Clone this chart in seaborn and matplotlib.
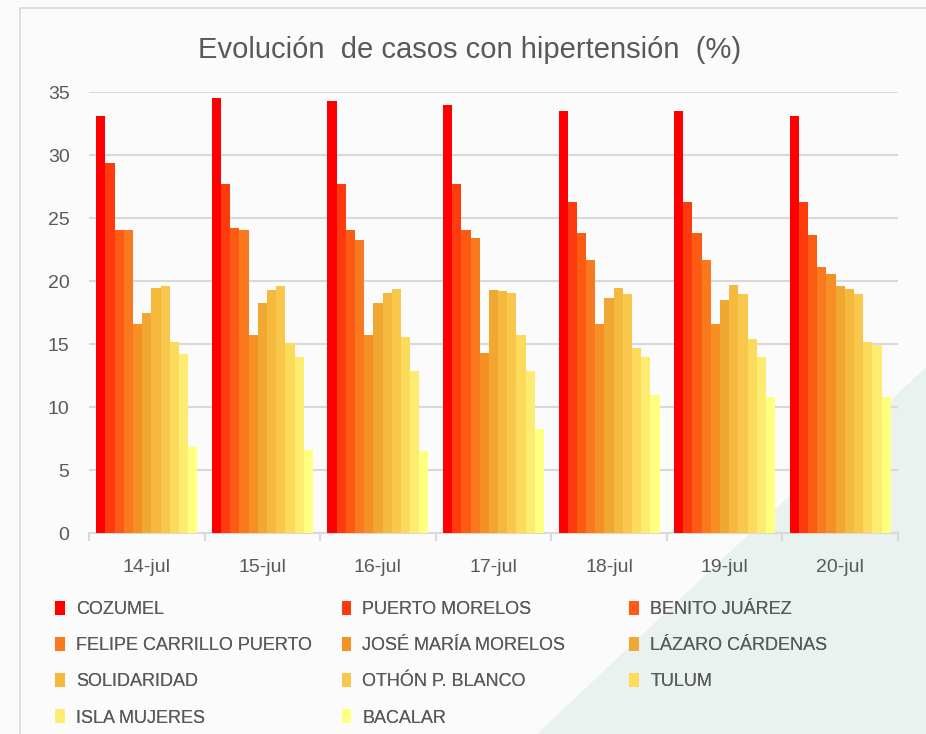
import pandas as pd
import seaborn as sns
import matplotlib.pyplot as plt
from matplotlib.patches import Polygon, Rectangle

fechas = ["14-jul", "15-jul", "16-jul", "17-jul", "18-jul", "19-jul", "20-jul"]
municipios = ["COZUMEL", "PUERTO MORELOS", "BENITO JUÁREZ", "FELIPE CARRILLO PUERTO",
              "JOSÉ MARÍA MORELOS", "LÁZARO CÁRDENAS", "SOLIDARIDAD", "OTHÓN P. BLANCO",
              "TULUM", "ISLA MUJERES", "BACALAR"]

# one list per date, in municipio order
v_14 = [33.1, 29.4, 24.1, 24.1, 16.6, 17.5, 19.5, 19.6, 15.2, 14.2, 6.85]
v_15 = [34.6, 27.7, 24.2, 24.1, 15.7, 18.3, 19.3, 19.6, 15.1, 14.0, 6.6]
v_16 = [34.3, 27.7, 24.1, 23.3, 15.7, 18.3, 19.1, 19.4, 15.6, 12.9, 6.5]
v_17 = [34.0, 27.7, 24.1, 23.4, 14.3, 19.3, 19.2, 19.1, 15.7, 12.9, 8.3]
v_18 = [33.5, 26.3, 23.8, 21.7, 16.6, 18.7, 19.5, 19.0, 14.7, 14.0, 11.0]
v_19 = [33.5, 26.3, 23.8, 21.7, 16.6, 18.5, 19.7, 19.0, 15.4, 14.0, 10.8]
v_20 = [33.1, 26.3, 23.7, 21.1, 20.6, 19.6, 19.4, 19.0, 15.2, 14.9, 10.8]
valores = [v_14, v_15, v_16, v_17, v_18, v_19, v_20]

colores = ["#FF0000", "#FF3A0C", "#FD5A14", "#FB791E", "#F68F24", "#F0A832",
           "#F5B93E", "#F9C74C", "#FDDB5A", "#FEEC70", "#FFFF80"]

rows = []
for f, vals in zip(fechas, valores):
    for m, v in zip(municipios, vals):
        rows.append({"Fecha": f, "Municipio": m, "Casos": v})
df = pd.DataFrame(rows)

sns.set_theme(style="white")
plt.rcParams['font.family'] = ['Liberation Sans', 'DejaVu Sans']
gris = "#595959"

fig = plt.figure(figsize=(9.26, 7.34), dpi=100, facecolor="#FBFBFB")
# decorative background shape
fig.patches.append(Polygon([(1.0, 0.50), (1.0, 0.0), (0.58, 0.0)], closed=True,
                           transform=fig.transFigure, facecolor="#E9F2EE",
                           edgecolor="none", zorder=-2))
fig.patches.append(Rectangle((0.022, -0.01), 0.985, 0.999, transform=fig.transFigure,
                             facecolor="none", edgecolor="#D9D9D9", lw=1.2, zorder=-1))

ax = fig.add_axes([0.0961, 0.2738, 0.8737, 0.6002])
ax.set_facecolor("none")
sns.barplot(data=df, x="Fecha", y="Casos", hue="Municipio", palette=colores,
            width=0.875, linewidth=0, saturation=1, ax=ax, zorder=3)

ax.set_ylim(0, 35)
ax.set_xlim(-0.5, 6.5)
ax.set_yticks(range(0, 36, 5))
ax.yaxis.grid(True, color="#D9D9D9", lw=1.5, zorder=0)
ax.set_axisbelow(True)
ax.set_xlabel(None)
ax.set_ylabel(None)
for s in ["top", "right", "left"]:
    ax.spines[s].set_visible(False)
ax.spines["bottom"].set_color("#D9D9D9")
ax.spines["bottom"].set_linewidth(1.5)
ax.set_xticks([i - 0.5 for i in range(8)], minor=True)
ax.tick_params(axis="x", which="minor", length=6, width=1.5, color="#D9D9D9", bottom=True)
ax.tick_params(axis="x", which="major", length=0, pad=19, labelsize=14, labelcolor=gris)
ax.tick_params(axis="y", length=0, pad=14, labelsize=14, labelcolor=gris)

fig.text(0.507, 0.932, "Evolución  de casos con hipertensión  (%)", fontsize=21,
         color=gris, ha="center", va="center")

# legend laid out as three equal-width columns, filled row by row
h, l = ax.get_legend_handles_labels()
ax.legend_.remove()
col_x = [0.052, 0.361, 0.672]
for c in range(3):
    idx = list(range(c, len(municipios), 3))
    leg = fig.legend([h[i] for i in idx], [l[i] for i in idx], frameon=False,
                     loc="upper left", bbox_to_anchor=(col_x[c], 0.191), fontsize=13,
                     labelcolor=gris, handlelength=0.55, handleheight=0.8,
                     handletextpad=0.6, labelspacing=1.05, borderaxespad=0)
    fig.add_artist(leg)

fig.savefig("out.png", dpi=100, facecolor=fig.get_facecolor())
